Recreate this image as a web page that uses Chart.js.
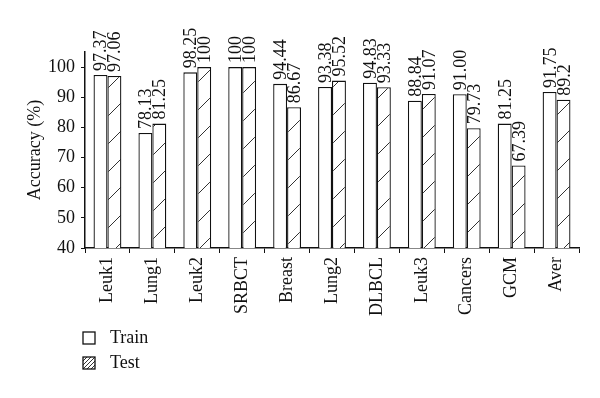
<!DOCTYPE html>
<html>
<head>
<meta charset="utf-8">
<script src="https://cdn.jsdelivr.net/npm/chart.js@4.4.0/dist/chart.umd.min.js"></script>
<style>
  body { margin: 0; background: #fff; }
  #wrap { width: 600px; height: 398px; }
</style>
</head>
<body>
<div id="wrap"><canvas id="accChart"></canvas></div>
<script>
// Data
const categories = ['Leuk1', 'Lung1', 'Leuk2', 'SRBCT', 'Breast', 'Lung2', 'DLBCL', 'Leuk3', 'Cancers', 'GCM', 'Aver'];
const trainValues = [97.37, 78.13, 98.25, 100, 94.44, 93.38, 94.83, 88.84, 91.00, 81.25, 91.75];
const testValues = [97.06, 81.25, 100, 100, 86.67, 95.52, 93.33, 91.07, 79.73, 67.39, 89.2];
const trainText = ['97.37', '78.13', '98.25', '100', '94.44', '93.38', '94.83', '88.84', '91.00', '81.25', '91.75'];
const testText = ['97.06', '81.25', '100', '100', '86.67', '95.52', '93.33', '91.07', '79.73', '67.39', '89.2'];
const yTicks = [40, 50, 60, 70, 80, 90, 100];

const FONT = '"Liberation Serif", "Times New Roman", serif';

// Diagonal hatch fill, spacing in px
const makeHatch = (size) => {
    const c = document.createElement('canvas');
    c.width = size;
    c.height = size;
    const g = c.getContext('2d');
    g.fillStyle = '#fff';
    g.fillRect(0, 0, size, size);
    g.strokeStyle = '#333';
    g.lineWidth = 1;
    g.beginPath();
    g.moveTo(-2, size + 2);
    g.lineTo(size + 2, -2);
    g.stroke();
    return g.createPattern(c, 'repeat');
};
const hatch = makeHatch(28);
const legendHatch = makeHatch(4);

// Rotated value labels above each bar
const barLabels = {
    id: 'barLabels',
    afterDatasetsDraw(chart) {
        const ctx = chart.ctx;
        const texts = [trainText, testText];
        ctx.save();
        ctx.fillStyle = '#111';
        ctx.font = '18px ' + FONT;
        ctx.textAlign = 'left';
        ctx.textBaseline = 'alphabetic';
        chart.data.datasets.forEach((ds, i) => {
            chart.getDatasetMeta(i).data.forEach((bar, j) => {
                ctx.save();
                ctx.translate(bar.x + 6, bar.y - 4);
                ctx.rotate(-Math.PI / 2);
                ctx.fillText(texts[i][j], 0, 0);
                ctx.restore();
            });
        });
        ctx.restore();
    }
};

// Stacked legend at the bottom left
const stackedLegend = {
    id: 'stackedLegend',
    afterDraw(chart) {
        const ctx = chart.ctx;
        const fills = ['#ffffff', legendHatch];
        ctx.save();
        ctx.font = '18px ' + FONT;
        ctx.textBaseline = 'middle';
        ctx.textAlign = 'left';
        chart.data.datasets.forEach((ds, i) => {
            const y = 332 + i * 25;
            ctx.fillStyle = fills[i];
            ctx.fillRect(83, y, 12, 12);
            ctx.strokeStyle = '#111';
            ctx.lineWidth = 1.3;
            ctx.strokeRect(83, y, 12, 12);
            ctx.fillStyle = '#111';
            ctx.fillText(ds.label, 110, y + 6);
        });
        ctx.restore();
    }
};

const initAccuracyChart = () => {
    const ctx = document.getElementById('accChart').getContext('2d');
    new Chart(ctx, {
        type: 'bar',
        data: {
            labels: categories,
            datasets: [
                {
                    label: 'Train',
                    data: trainValues,
                    backgroundColor: '#ffffff',
                    borderColor: '#111',
                    borderWidth: 1.3
                },
                {
                    label: 'Test',
                    data: testValues,
                    backgroundColor: hatch,
                    borderColor: '#111',
                    borderWidth: 1.3
                }
            ]
        },
        options: {
            responsive: true,
            maintainAspectRatio: false,
            animation: false,
            datasets: {
                bar: { categoryPercentage: 0.62, barPercentage: 1 }
            },
            layout: {
                padding: { top: 52, right: 21, left: 0, bottom: 0 }
            },
            plugins: {
                legend: { display: false },
                tooltip: { enabled: false }
            },
            scales: {
                x: {
                    afterFit: (scale) => { scale.height = 150; },
                    border: { display: true, color: '#111', width: 1.5 },
                    grid: {
                        drawOnChartArea: false,
                        drawTicks: true,
                        tickLength: 5,
                        color: '#111'
                    },
                    ticks: {
                        color: '#111',
                        font: { family: FONT, size: 18 },
                        minRotation: 90,
                        maxRotation: 90,
                        padding: 4
                    }
                },
                y: {
                    min: 40,
                    max: 105,
                    afterFit: (scale) => { scale.width = 85; },
                    afterBuildTicks: (scale) => {
                        scale.ticks = yTicks.map(v => ({ value: v }));
                    },
                    border: { display: true, color: '#111', width: 1.5 },
                    grid: {
                        drawOnChartArea: false,
                        drawTicks: true,
                        tickLength: 4,
                        color: '#111'
                    },
                    ticks: {
                        color: '#111',
                        font: { family: FONT, size: 18 },
                        padding: 6
                    },
                    title: {
                        display: true,
                        text: 'Accuracy (%)',
                        color: '#111',
                        font: { family: FONT, size: 18 },
                        padding: { top: 24, bottom: 0 }
                    }
                }
            }
        },
        plugins: [barLabels, stackedLegend]
    });
};

document.addEventListener('DOMContentLoaded', () => {
    initAccuracyChart();
});
</script>
</body>
</html>
